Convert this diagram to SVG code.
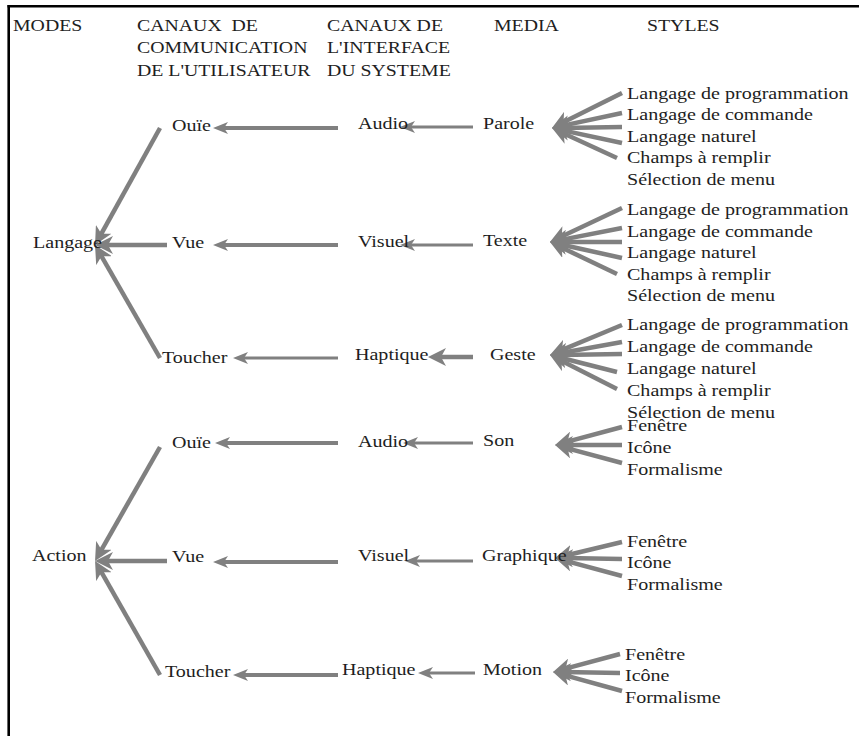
<svg xmlns="http://www.w3.org/2000/svg" width="859" height="736" viewBox="0 0 859 736">
  <style>
    text { font-family: "Liberation Serif", "Times New Roman", serif; font-size: 17px; fill: #1e1e1e; }
    .hd { font-size: 16.5px; }
    .frame { stroke: #000; stroke-width: 2.6; }
    .c { stroke: #808080; stroke-width: 4; fill: none; }
    .c.thin { stroke-width: 3; }
    .c.big { stroke-width: 4.5; marker-end: url(#ah-big); }
    .c.mid { marker-end: url(#ah-mid); }
  </style>
  <defs>
    <marker id="ah-big" viewBox="0 0 18 18" refX="8" refY="9" markerWidth="18" markerHeight="18" markerUnits="userSpaceOnUse" orient="auto">
      <path d="M18,9 L0,0 L5,9 L0,18 Z" fill="#808080"/>
    </marker>
    <marker id="ah-mid" viewBox="0 0 15 12" refX="7" refY="6" markerWidth="15" markerHeight="12" markerUnits="userSpaceOnUse" orient="auto">
      <path d="M15,6 L0,0 L4,6 L0,12 Z" fill="#808080"/>
    </marker>
  </defs>

  <rect width="859" height="736" fill="#fff"/>
  <line class="frame" x1="7.5" y1="6.2" x2="859" y2="6.2"/>
  <line class="frame" x1="8.7" y1="5" x2="8.7" y2="736"/>

  <!-- column headers -->
  <g id="headers">
    <text class="hd" transform="translate(13 30.5) scale(1.2 1)">MODES</text>
    <text class="hd" transform="translate(137 30.5) scale(1.2 1)" xml:space="preserve">CANAUX  DE</text>
    <text class="hd" transform="translate(137 53) scale(1.2 1)">COMMUNICATION</text>
    <text class="hd" transform="translate(137 75.5) scale(1.2 1)">DE L'UTILISATEUR</text>
    <text class="hd" transform="translate(327 30.5) scale(1.2 1)">CANAUX DE</text>
    <text class="hd" transform="translate(327 53) scale(1.2 1)">L'INTERFACE</text>
    <text class="hd" transform="translate(327 75.5) scale(1.2 1)">DU SYSTEME</text>
    <text class="hd" transform="translate(494 30.5) scale(1.2 1)">MEDIA</text>
    <text class="hd" transform="translate(647 30.5) scale(1.2 1)">STYLES</text>
  </g>

  <!-- connectors -->
  <g id="connectors">
    <!-- channels to modes -->
    <line class="c big" x1="160" y1="128" x2="99.9" y2="236.3"/>
    <line class="c big" x1="167" y1="245" x2="105" y2="245"/>
    <line class="c big" x1="160" y1="358" x2="100" y2="253.7"/>
    <line class="c big" x1="160" y1="447" x2="100" y2="552.3"/>
    <line class="c big" x1="167" y1="561" x2="105" y2="561"/>
    <line class="c big" x1="160" y1="675" x2="100" y2="569.7"/>

    <!-- interface to user channels -->
    <line class="c mid" x1="338" y1="128" x2="221" y2="128"/>
    <line class="c mid" x1="338" y1="245" x2="221" y2="245"/>
    <line class="c mid thin" x1="338" y1="358" x2="241" y2="358"/>
    <line class="c mid" x1="338" y1="443" x2="223" y2="443"/>
    <line class="c mid" x1="338" y1="562" x2="221" y2="562"/>
    <line class="c mid" x1="338" y1="675" x2="241" y2="675"/>

    <!-- media to interface -->
    <line class="c mid thin" x1="473" y1="127" x2="408" y2="127"/>
    <line class="c mid thin" x1="473" y1="245" x2="408" y2="245"/>
    <line class="c big thin" x1="473" y1="357" x2="438" y2="357"/>
    <line class="c mid thin" x1="473" y1="443" x2="411" y2="443"/>
    <line class="c mid thin" x1="473" y1="561" x2="413" y2="561"/>
    <line class="c mid thin" x1="475" y1="673" x2="426" y2="673"/>

    <!-- styles to Parole -->
    <line class="c big" x1="622" y1="93" x2="560.9" y2="123.5"/>
    <line class="c big" x1="622" y1="113" x2="561.8" y2="125.9"/>
    <line class="c big" x1="622" y1="127" x2="562" y2="127.9"/>
    <line class="c big" x1="622" y1="143" x2="561.8" y2="130.1"/>
    <line class="c big" x1="617" y1="158" x2="561.1" y2="132.2"/>
    <!-- styles to Texte -->
    <line class="c big" x1="622" y1="208" x2="559" y2="237.7"/>
    <line class="c big" x1="622" y1="228" x2="559.8" y2="240.1"/>
    <line class="c big" x1="622" y1="242" x2="560" y2="242"/>
    <line class="c big" x1="622" y1="258" x2="559.8" y2="244.2"/>
    <line class="c big" x1="617" y1="274" x2="559" y2="246.3"/>
    <!-- styles to Geste -->
    <line class="c big" x1="622" y1="325" x2="559.2" y2="351.2"/>
    <line class="c big" x1="622" y1="342" x2="559.8" y2="353.2"/>
    <line class="c big" x1="622" y1="354" x2="560" y2="354.9"/>
    <line class="c big" x1="617" y1="372" x2="559.7" y2="357.5"/>
    <line class="c big" x1="617" y1="389" x2="558.9" y2="359.5"/>
    <!-- styles to Son -->
    <line class="c big" x1="622" y1="427" x2="564.7" y2="442.4"/>
    <line class="c big" x1="622" y1="445" x2="565" y2="445"/>
    <line class="c big" x1="622" y1="463" x2="564.7" y2="447.6"/>
    <!-- styles to Graphique -->
    <line class="c big" x1="622" y1="542" x2="564.7" y2="555.7"/>
    <line class="c big" x1="622" y1="559" x2="565" y2="558.1"/>
    <line class="c big" x1="622" y1="576" x2="564.7" y2="560.6"/>
    <!-- styles to Motion -->
    <line class="c big" x1="620" y1="654" x2="562.7" y2="669.4"/>
    <line class="c big" x1="620" y1="673" x2="563" y2="672.1"/>
    <line class="c big" x1="622" y1="691" x2="562.6" y2="674.7"/>
  </g>

  <!-- modes -->
  <g id="mode-langage"><text transform="translate(33 248) scale(1.18 1)">Langage</text></g>
  <g id="mode-action"><text transform="translate(32 561) scale(1.18 1)">Action</text></g>

  <!-- user channels -->
  <g id="canal-ouie-1"><text transform="translate(172 131) scale(1.18 1)">Ouïe</text></g>
  <g id="canal-vue-1"><text transform="translate(172 248) scale(1.18 1)">Vue</text></g>
  <g id="canal-toucher-1"><text transform="translate(162 363) scale(1.18 1)">Toucher</text></g>
  <g id="canal-ouie-2"><text transform="translate(172 448) scale(1.18 1)">Ouïe</text></g>
  <g id="canal-vue-2"><text transform="translate(172 562) scale(1.18 1)">Vue</text></g>
  <g id="canal-toucher-2"><text transform="translate(165 677) scale(1.18 1)">Toucher</text></g>

  <!-- system interface channels -->
  <g id="iface-audio-1"><text transform="translate(358 129) scale(1.18 1)">Audio</text></g>
  <g id="iface-visuel-1"><text transform="translate(358 247) scale(1.18 1)">Visuel</text></g>
  <g id="iface-haptique-1"><text transform="translate(355 360) scale(1.18 1)">Haptique</text></g>
  <g id="iface-audio-2"><text transform="translate(358 447) scale(1.18 1)">Audio</text></g>
  <g id="iface-visuel-2"><text transform="translate(358 561) scale(1.18 1)">Visuel</text></g>
  <g id="iface-haptique-2"><text transform="translate(342 675) scale(1.18 1)">Haptique</text></g>

  <!-- media -->
  <g id="media-parole"><text transform="translate(483 129) scale(1.18 1)">Parole</text></g>
  <g id="media-texte"><text transform="translate(483 246) scale(1.18 1)">Texte</text></g>
  <g id="media-geste"><text transform="translate(490 360) scale(1.18 1)">Geste</text></g>
  <g id="media-son"><text transform="translate(483 446) scale(1.18 1)">Son</text></g>
  <g id="media-graphique"><text transform="translate(482 561) scale(1.18 1)">Graphique</text></g>
  <g id="media-motion"><text transform="translate(483 675) scale(1.18 1)">Motion</text></g>

  <!-- styles -->
  <g id="styles-parole">
    <text transform="translate(627 98.5) scale(1.18 1)">Langage de programmation</text>
    <text transform="translate(627 120) scale(1.18 1)">Langage de commande</text>
    <text transform="translate(627 141.5) scale(1.18 1)">Langage naturel</text>
    <text transform="translate(627 163) scale(1.18 1)">Champs à remplir</text>
    <text transform="translate(627 184.5) scale(1.18 1)">Sélection de menu</text>
  </g>
  <g id="styles-texte">
    <text transform="translate(627 215) scale(1.18 1)">Langage de programmation</text>
    <text transform="translate(627 236.5) scale(1.18 1)">Langage de commande</text>
    <text transform="translate(627 258) scale(1.18 1)">Langage naturel</text>
    <text transform="translate(627 279.5) scale(1.18 1)">Champs à remplir</text>
    <text transform="translate(627 301) scale(1.18 1)">Sélection de menu</text>
  </g>
  <g id="styles-geste">
    <text transform="translate(627 330) scale(1.18 1)">Langage de programmation</text>
    <text transform="translate(627 352) scale(1.18 1)">Langage de commande</text>
    <text transform="translate(627 374) scale(1.18 1)">Langage naturel</text>
    <text transform="translate(627 396) scale(1.18 1)">Champs à remplir</text>
    <text transform="translate(627 418) scale(1.18 1)">Sélection de menu</text>
  </g>
  <g id="styles-son">
    <text transform="translate(627 431) scale(1.18 1)">Fenêtre</text>
    <text transform="translate(627 453) scale(1.18 1)">Icône</text>
    <text transform="translate(627 475) scale(1.18 1)">Formalisme</text>
  </g>
  <g id="styles-graphique">
    <text transform="translate(627 546.5) scale(1.18 1)">Fenêtre</text>
    <text transform="translate(627 568) scale(1.18 1)">Icône</text>
    <text transform="translate(627 590) scale(1.18 1)">Formalisme</text>
  </g>
  <g id="styles-motion">
    <text transform="translate(625 659.5) scale(1.18 1)">Fenêtre</text>
    <text transform="translate(625 681) scale(1.18 1)">Icône</text>
    <text transform="translate(625 702.5) scale(1.18 1)">Formalisme</text>
  </g>
</svg>
